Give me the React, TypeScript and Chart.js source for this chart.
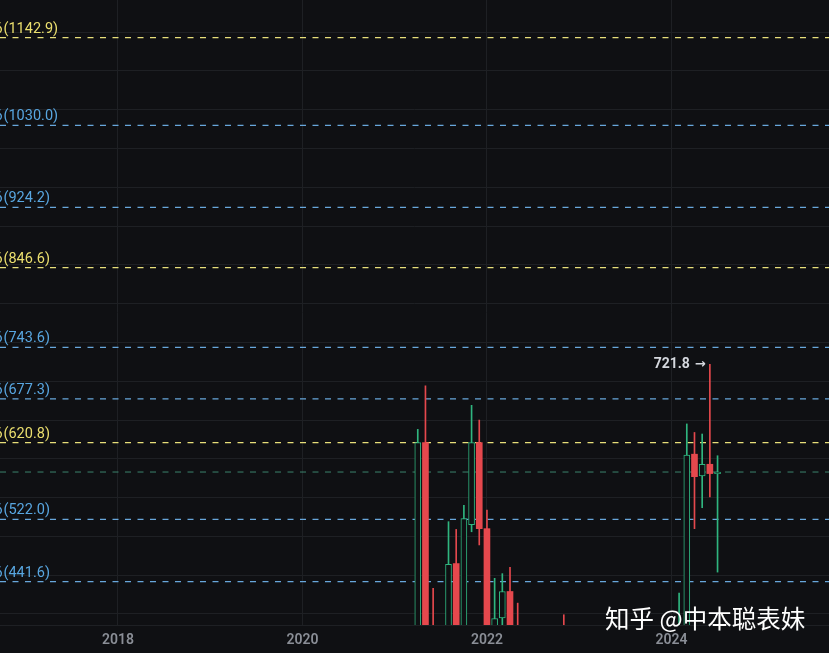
import React, { useEffect, useRef } from 'react';
import { Chart, registerables } from 'chart.js';

Chart.register(...registerables);

// ---- Data ----
const months = [
  '2021-04', '2021-05', '2021-06', '2021-08', '2021-09', '2021-10', '2021-11', '2021-12',
  '2022-01', '2022-02', '2022-03', '2022-04', '2022-05', '2022-11',
  '2024-02', '2024-03', '2024-04', '2024-05', '2024-06', '2024-07',
];
const opens = [350, 621, 380, 370, 465, 370, 515, 621, 510, 370, 395, 429, 370, 380, 360, 380, 606, 578, 593, 581];
const highs = [638, 694, 433, 519, 509, 540, 669, 650, 534, 446, 452, 460, 414, 399, 427, 645, 634, 632, 721.8, 604];
const lows = [340, 330, 300, 340, 330, 350, 506, 489, 330, 350, 380, 330, 300, 300, 340, 360, 510, 537, 551, 454];
const closes = [621, 345, 350, 464, 360, 523, 621, 510, 350, 394, 429, 350, 340, 350, 380, 605, 577, 593, 581, 583];

const fibLevels = [1142.9, 1030.0, 924.2, 846.6, 743.6, 677.3, 620.8, 522.0, 441.6];
const fibKinds = ['gold', 'blue', 'blue', 'gold', 'blue', 'blue', 'gold', 'blue', 'blue'];

const yearTicks = [2018, 2020, 2022, 2024];
const highLabel = '721.8';
const watermark = '知乎 @中本聪表妹';

// ---- Styles ----
const BG = '#0f1013';
const GRID = '#1e2024';
const GREEN = '#2fb57f';
const RED = '#e5484d';
const GOLD_LINE = '#e8df7a';
const GOLD_TEXT = '#ebdf6e';
const BLUE_LINE = '#68a7dc';
const BLUE_TEXT = '#58a6e0';

const X_MIN = -15.35;
const X_MAX = 92.5;
const Y_MIN = 385.8;
const Y_MAX = 1191.5;

const monthIndex = (s: string) => {
  const [y, m] = s.split('-').map(Number);
  return (y - 2018) * 12 + (m - 1);
};

export default function App() {
  const ref = useRef<HTMLCanvasElement | null>(null);

  useEffect(() => {
    if (!ref.current) return;
    const xs = months.map(monthIndex);
    const up = closes.map((c, i) => c >= opens[i]);
    const wickData = xs.map((x, i) => ({ x, y: [lows[i], highs[i]] }));
    const bodyData = xs.map((x, i) => ({
      x,
      y: [Math.min(opens[i], closes[i]), Math.max(opens[i], closes[i])],
    }));
    const lastPrice = closes[closes.length - 1];
    const maxIdx = highs.indexOf(Math.max(...highs));

    const levelSets: any[] = fibLevels.map((v, i) => ({
      type: 'line',
      data: [
        { x: X_MIN, y: v },
        { x: X_MAX, y: v },
      ],
      borderColor: fibKinds[i] === 'gold' ? GOLD_LINE : BLUE_LINE,
      borderWidth: 1.2,
      borderDash: [6, 6.5],
      pointRadius: 0,
      order: 3,
    }));

    const priceLine: any = {
      type: 'line',
      data: [
        { x: X_MIN, y: lastPrice },
        { x: X_MAX, y: lastPrice },
      ],
      borderColor: 'rgba(70,160,130,0.8)',
      borderWidth: 1,
      borderDash: [6, 6.5],
      pointRadius: 0,
      order: 4,
    };

    const bgPlugin = {
      id: 'bg',
      beforeDraw(chart: any) {
        const { ctx, width, height } = chart;
        ctx.save();
        ctx.fillStyle = BG;
        ctx.fillRect(0, 0, width, height);
        ctx.restore();
      },
    };

    const textPlugin = {
      id: 'texts',
      afterDatasetsDraw(chart: any) {
        const { ctx } = chart;
        const ys = chart.scales.y;
        const xsScale = chart.scales.x;
        ctx.save();
        // level labels
        ctx.font = '14.5px Roboto';
        ctx.textBaseline = 'alphabetic';
        ctx.textAlign = 'left';
        fibLevels.forEach((v, i) => {
          const py = ys.getPixelForValue(v);
          ctx.fillStyle = fibKinds[i] === 'gold' ? GOLD_TEXT : BLUE_TEXT;
          const pre = '6';
          const pw = ctx.measureText(pre).width;
          ctx.fillText(pre, 2.6 - pw, py - 5);
          ctx.fillText('(' + v.toFixed(1) + ')', 3.5, py - 5);
        });
        // high annotation
        const hx = xsScale.getPixelForValue(monthIndex(months[maxIdx]));
        const hy = ys.getPixelForValue(highs[maxIdx]);
        ctx.fillStyle = '#d5d8de';
        ctx.font = 'bold 14px Roboto';
        ctx.textBaseline = 'middle';
        ctx.textAlign = 'right';
        ctx.fillText(highLabel, hx - 20, hy);
        ctx.font = 'bold 13px "DejaVu Sans"';
        ctx.textAlign = 'left';
        ctx.fillText('\u2192', hx - 15, hy + 0.5);
        // watermark
        ctx.font = '24.5px "Noto Sans CJK SC"';
        ctx.fillStyle = '#ffffff';
        ctx.textAlign = 'left';
        ctx.textBaseline = 'middle';
        ctx.fillText(watermark, 605, 619);
        ctx.restore();
      },
    };

    const chart = new Chart(ref.current, {
      type: 'bar',
      data: {
        datasets: [
          {
            type: 'bar',
            data: bodyData as any,
            backgroundColor: up.map((u) => (u ? BG : RED)),
            borderColor: up.map((u) => (u ? GREEN : RED)),
            borderWidth: up.map((u) => (u ? 1 : 0)),
            borderSkipped: false,
            barThickness: 6,
            grouped: false,
            minBarLength: 1,
            clip: 0,
            order: 1,
          } as any,
          {
            type: 'bar',
            data: wickData as any,
            backgroundColor: up.map((u) => (u ? GREEN : RED)),
            borderWidth: 0,
            barThickness: 1,
            grouped: false,
            clip: 0,
            order: 2,
          } as any,
          priceLine,
          ...levelSets,
        ],
      },
      options: {
        responsive: false,
        animation: false,
        devicePixelRatio: 1,
        layout: { padding: 0 },
        plugins: {
          legend: { display: false },
          tooltip: { enabled: false },
        },
        scales: {
          x: {
            type: 'linear',
            min: X_MIN,
            max: X_MAX,
            offset: false,
            grid: { color: GRID, drawTicks: false, offset: false },
            border: { display: true, color: GRID },
            ticks: {
              color: '#8a8e96',
              font: { family: 'Roboto', size: 14, weight: '600' },
              padding: 7,
              autoSkip: false,
              maxRotation: 0,
              callback: (v: any) => String(2018 + Math.round(Number(v) / 12)),
            },
            afterBuildTicks: (s: any) => {
              s.ticks = yearTicks.map((y) => ({ value: (y - 2018) * 12 }));
            },
            afterFit: (s: any) => {
              s.height = 28;
            },
          },
          y: {
            type: 'linear',
            min: Y_MIN,
            max: Y_MAX,
            beginAtZero: false,
            grid: { color: GRID, drawTicks: false },
            border: { display: false },
            ticks: { display: false, stepSize: 50, includeBounds: false, maxTicksLimit: 100 },
            afterFit: (s: any) => {
              s.width = 0;
            },
          },
        },
      } as any,
      plugins: [bgPlugin, textPlugin],
    });
    return () => chart.destroy();
  }, []);

  return (
    <div style={{ position: 'absolute', left: 0, top: 0, width: 829, height: 653, background: BG }}>
      <canvas ref={ref} width={829} height={653} style={{ display: 'block' }} />
    </div>
  );
}
